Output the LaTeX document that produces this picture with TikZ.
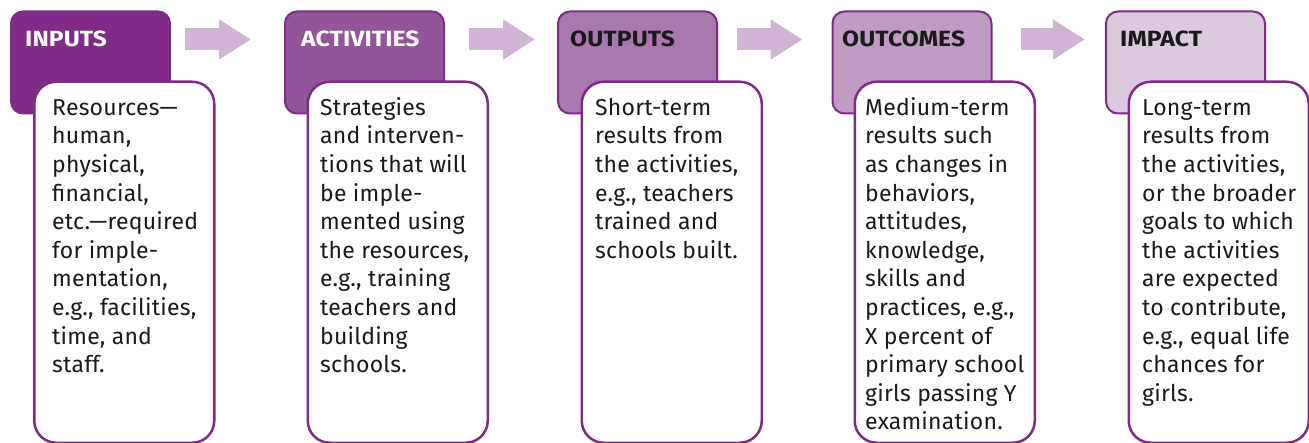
\documentclass[tikz,border=0pt]{standalone}
\usepackage{fontspec}
\setmainfont{Fira Sans}[LetterSpace=1.0]
\newfontfamily\headfont{Fira Sans}[FakeStretch=1.12, LetterSpace=0.5]
\usetikzlibrary{arrows.meta}
\definecolor{pborder}{HTML}{7D2C85}
\definecolor{cA}{HTML}{822A87}
\definecolor{cB}{HTML}{935599}
\definecolor{cC}{HTML}{A878AE}
\definecolor{cD}{HTML}{C09CC5}
\definecolor{cE}{HTML}{DCC9DF}
\definecolor{arrowc}{HTML}{CFB4D4}
\definecolor{textc}{HTML}{1A1A1A}
\begin{document}
\begin{tikzpicture}[x=1pt,y=-1pt,
  head/.style={draw=pborder, line width=2pt, rounded corners=12pt, minimum width=159pt, minimum height=102pt, anchor=north west, inner sep=0pt},
  body/.style={draw=pborder, line width=2.5pt, fill=white, rounded corners=22pt, minimum width=180pt, minimum height=361pt, anchor=north west, inner sep=0pt},
  htext/.style={anchor=base west, inner sep=0pt, font=\headfont\fontsize{22}{25}\selectfont\bfseries},
  btext/.style={anchor=north west, align=left, inner sep=0pt, text=textc, font=\fontsize{23}{28.6}\selectfont},
  flow/.style={line width=22pt, draw=arrowc, -{Triangle[width=38pt,length=32pt]}}]
\useasboundingbox (0,0) rectangle (1309,443);
% headers
\node[head, fill=cA] (h1) at (10,10.5) {};
\node[head, fill=cB] (h2) at (284,10.5) {};
\node[head, fill=cC] (h3) at (557,10.5) {};
\node[head, fill=cD] (h4) at (831.5,10.5) {};
\node[head, fill=cE] (h5) at (1105,10.5) {};
\node[htext, text=white] (t1) at (25,47) {INPUTS};
\node[htext, text=white] (t2) at (301,47) {ACTIVITIES};
\node[htext, text=textc] (t3) at (570,47) {OUTPUTS};
\node[htext, text=textc] (t4) at (842,47) {OUTCOMES};
\node[htext, text=textc] (t5) at (1120,47) {IMPACT};
% arrows
\draw[flow] ([xshift=14pt,yshift=-29pt]h1.north east) -- ([xshift=-33pt,yshift=-29pt]h2.north west);
\draw[flow] ([xshift=24pt,yshift=-29pt]h2.north east) -- ([xshift=-22pt,yshift=-29pt]h3.north west);
\draw[flow] ([xshift=19pt,yshift=-29pt]h3.north east) -- ([xshift=-29pt,yshift=-29pt]h4.north west);
\draw[flow] ([xshift=28pt,yshift=-29pt]h4.north east) -- ([xshift=-20pt,yshift=-29pt]h5.north west);
% bodies
\node[body] (b1) at (33,80.5) {};
\node[body] (b2) at (306.5,80.5) {};
\node[body] (b3) at (580.5,80.5) {};
\node[body] (b4) at (853.5,80.5) {};
\node[body] (b5) at (1127.5,80.5) {};
\node[btext] (x1) at (52,95) {\strut Resources—\\human,\\physical,\\financial,\\etc.—required\\for imple-\\mentation,\\e.g., facilities,\\time, and\\staff.};
\node[btext] (x2) at (320,95) {\strut Strategies\\and interven-\\tions that will\\be imple-\\mented using\\the resources,\\e.g., training\\teachers and\\building\\schools.};
\node[btext] (x3) at (595,95) {\strut Short-term\\results from\\the activities,\\e.g., teachers\\trained and\\schools built.};
\node[btext] (x4) at (865,95) {\strut Medium-term\\results such\\as changes in\\behaviors,\\attitudes,\\knowledge,\\skills and\\practices, e.g.,\\X percent of\\primary school\\girls passing Y\\examination.};
\node[btext] (x5) at (1142,95) {\strut Long-term\\results from\\the activities,\\or the broader\\goals to which\\the activities\\are expected\\to contribute,\\e.g., equal life\\chances for\\girls.};
\end{tikzpicture}
\end{document}
